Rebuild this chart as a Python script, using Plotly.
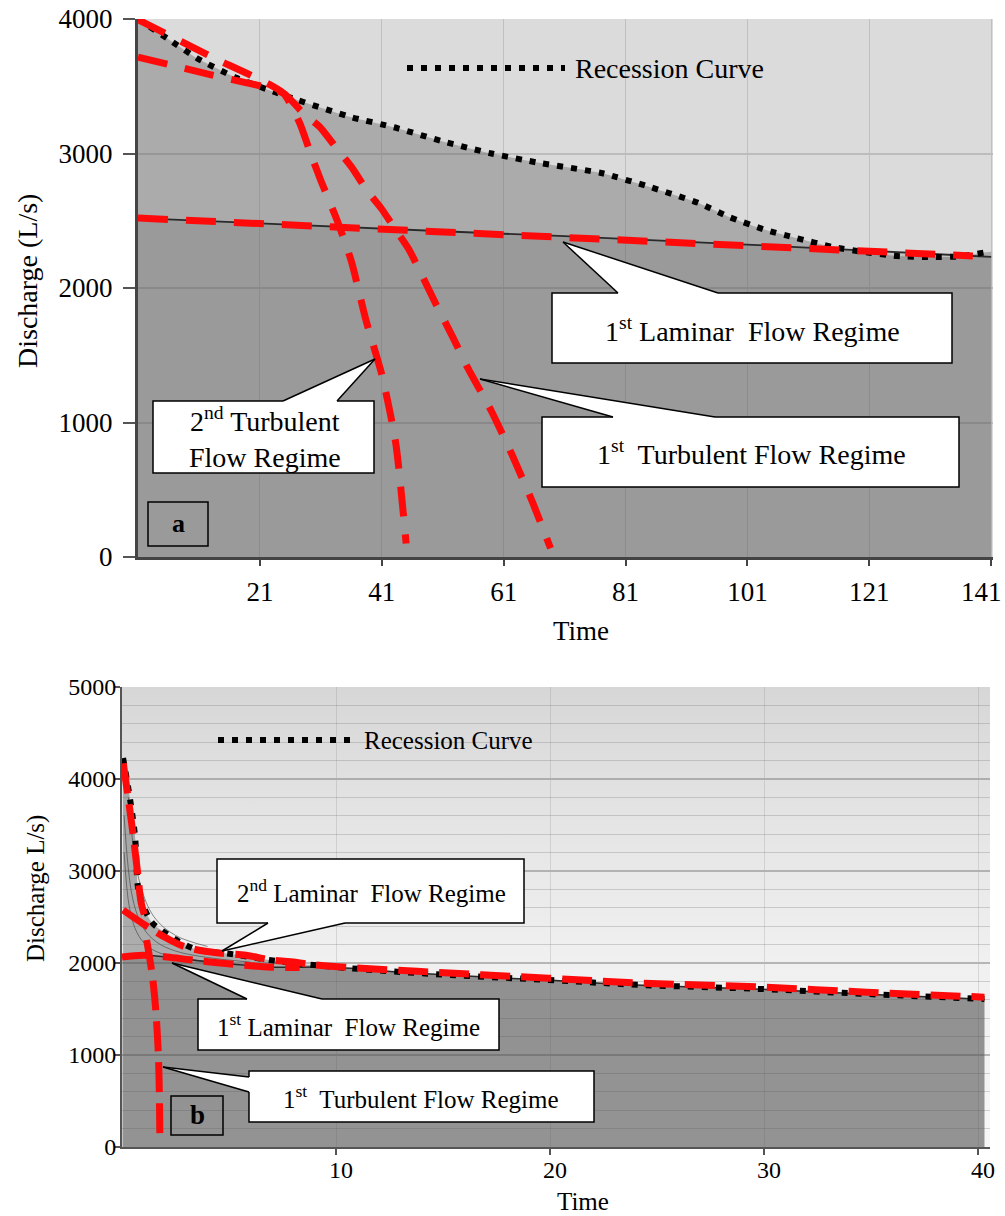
import plotly.graph_objects as go

W, H = 1005, 1216
FONT = "Liberation Serif"
RED = "#ff0a0a"
NB = "\u00a0"

# ---------------- Panel a data ----------------
a_xticks = [21, 41, 61, 81, 101, 121, 141]
a_xticklabels = ["21", "41", "61", "81", "101", "121", "141"]
a_yticks = [0, 1000, 2000, 3000, 4000]
a_rec_t = [1, 6, 11, 17, 22, 27, 36, 43, 51, 59, 67, 77, 85, 93, 98, 104, 109, 115, 120, 125.5, 131,
           136, 140, 141]
a_rec_q = [4000, 3850, 3700, 3565, 3480, 3400, 3270, 3195, 3090, 3000, 2929, 2855, 2751, 2632, 2528,
           2431, 2372, 2305, 2268, 2238, 2230, 2235, 2265, 2270]
a_lam_t = [1, 19, 52, 71, 100, 138, 141]
a_lam_q = [2520, 2483, 2420, 2385, 2325, 2238, 2232]
a_turb2_t = [1, 13, 24.8, 27.5, 29.4, 31, 33.7, 36, 38.4, 41.1, 43.3, 45.0]
a_turb2_q = [3995, 3720, 3450, 3230, 2990, 2800, 2500, 2200, 1762, 1340, 845, 100]
a_turb1_t = [1, 13, 24.8, 28.1, 30.8, 33.8, 36, 38.7, 40.9, 43.3, 45.5, 47.7, 50, 52.9, 55, 58.9,
             62.4, 65.7, 68.7]
a_turb1_q = [3717, 3585, 3450, 3300, 3199, 3026, 2902, 2716, 2593, 2431, 2283, 2084, 1870, 1613,
             1415, 1093, 758, 411, 65]

# ---------------- Panel b data ----------------
b_xticks = [10, 20, 30, 40]
b_yticks = [0, 1000, 2000, 3000, 4000, 5000]
b_rec_t = [0.05, 0.37, 0.61, 0.76, 0.95, 1.38, 1.85, 3.32, 5.1, 7.45, 9.8, 13.8, 19.95, 24.3, 29.9,
           34.8, 40.3]
b_rec_q = [4228, 3790, 3373, 2800, 2650, 2445, 2355, 2160, 2097, 2014, 1960, 1891, 1815, 1761, 1717,
           1663, 1609]
b_base_t = [0, 1.0, 2.1, 3.2, 4.6, 7.0, 9.8, 13.8, 19.95, 24.3, 29.9, 34.8, 40.3]
b_base_q = [2065, 2085, 2065, 2035, 2000, 1955, 1955, 1888, 1812, 1758, 1714, 1660, 1606]
b_lam1_t = [0, 1.0, 2.1, 3.2, 4.6, 7.0, 8.3]
b_lam1_q = [2065, 2085, 2065, 2035, 2000, 1955, 1950]
b_lam2_t = [0.05, 1.07, 1.85, 2.9, 4.3, 5.8, 6.9, 7.9, 9.2, 13.8, 19.95, 24.3, 29.9, 34.8, 40.3]
b_lam2_q = [2576, 2413, 2300, 2180, 2115, 2085, 2035, 2014, 1975, 1910, 1835, 1782, 1738, 1683, 1629]
b_turb2_t = [0.06, 0.45, 0.72, 0.9, 1.12]
b_turb2_q = [4170, 3520, 3000, 2650, 2470]
b_turb1_t = [1.15, 1.46, 1.69, 1.77]
b_turb1_q = [2250, 1780, 1054, 40]
b_h1_t = [0.1, 0.5, 1.0, 1.6, 2.5, 4.0, 6.0]
b_h1_q = [3600, 2700, 2380, 2230, 2130, 2060, 2010]
b_h2_t = [0.1, 0.35, 0.7, 1.2, 2.0, 3.5, 5.0]
b_h2_q = [3200, 2600, 2330, 2180, 2090, 2030, 2000]
b_h3_t = [0.3, 0.8, 1.5, 2.5, 4.0]
b_h3_q = [3800, 2900, 2500, 2300, 2180]

A_XR = [1, 141.3]
A_YR = [0, 4000]
B_XR = [0, 40.56]
B_YR = [0, 5000]


def px(x):
    return x / W


def py(y):
    return 1 - y / H


AX = dict(xaxis="x", yaxis="y")
BX = dict(xaxis="x2", yaxis="y2")

fig = go.Figure()

# ---------- panel a ----------
fig.add_trace(go.Scatter(x=a_rec_t, y=a_rec_q, mode="lines", fill="tozeroy",
                         fillcolor="rgba(80,80,80,0.345)",
                         line=dict(width=0, shape="spline", smoothing=0.5),
                         hoverinfo="skip", **AX))
fig.add_trace(go.Scatter(x=a_lam_t, y=a_lam_q, mode="lines", fill="tozeroy",
                         fillcolor="rgba(80,80,80,0.18)", line=dict(width=1.8, color="#2a2a2a"),
                         hoverinfo="skip", **AX))
fig.add_trace(go.Scatter(x=a_rec_t[:-1], y=a_rec_q[:-1], mode="lines",
                         line=dict(color="black", width=6, dash="6px,8px", shape="spline",
                                   smoothing=0.5), **AX))
for t, q in [(a_turb2_t, a_turb2_q), (a_turb1_t, a_turb1_q)]:
    fig.add_trace(go.Scatter(x=t, y=q, mode="lines",
                             line=dict(color=RED, width=7, dash="30px,18px", shape="spline",
                                       smoothing=0.6), **AX))
fig.add_trace(go.Scatter(x=a_lam_t[:-1], y=a_lam_q[:-1], mode="lines",
                         line=dict(color=RED, width=7, dash="30px,18px"), **AX))

# ---------- panel b ----------
fig.add_trace(go.Scatter(x=[B_XR[0], B_XR[1], B_XR[1], B_XR[0], B_XR[0]],
                         y=[B_YR[0], B_YR[0], B_YR[1], B_YR[1], B_YR[0]],
                         mode="lines", fill="toself", line=dict(width=0),
                         fillgradient=dict(type="vertical",
                                           colorscale=[[0, "rgba(120,120,120,0.06)"],
                                                       [0.4, "rgba(120,120,120,0.11)"],
                                                       [0.72, "rgba(120,120,120,0.2)"],
                                                       [1, "rgba(120,120,120,0.3)"]]),
                         hoverinfo="skip", **BX))
fig.add_trace(go.Scatter(x=b_rec_t, y=b_rec_q, mode="lines", fill="tozeroy",
                         fillcolor="rgba(80,80,80,0.42)", line=dict(width=0, shape="spline"),
                         hoverinfo="skip", **BX))
fig.add_trace(go.Scatter(x=b_base_t, y=b_base_q, mode="lines", fill="tozeroy",
                         fillcolor="rgba(80,80,80,0.3)", line=dict(width=1.5, color="#2a2a2a", shape="spline"),
                         hoverinfo="skip", **BX))
for t, q in [(b_h1_t, b_h1_q), (b_h2_t, b_h2_q), (b_h3_t, b_h3_q)]:
    fig.add_trace(go.Scatter(x=t, y=q, mode="lines",
                             line=dict(color="rgba(50,50,50,0.55)", width=1, shape="spline"),
                             hoverinfo="skip", **BX))
fig.add_trace(go.Scatter(x=b_rec_t, y=b_rec_q, mode="lines",
                         line=dict(color="black", width=6, dash="6px,8px", shape="spline"), **BX))
for t, q in [(b_turb2_t, b_turb2_q), (b_lam2_t, b_lam2_q), (b_lam1_t, b_lam1_q),
             (b_turb1_t, b_turb1_q)]:
    fig.add_trace(go.Scatter(x=t, y=q, mode="lines",
                             line=dict(color=RED, width=7, dash="30px,11px", shape="spline"), **BX))

# ---------- shapes & annotations ----------
shapes = []
annotations = []

# panel a background
shapes.append(dict(type="rect", xref="paper", yref="paper", x0=px(138), x1=px(993), y0=py(557),
                   y1=py(19), fillcolor="#dbdbdb", line=dict(width=0), layer="below"))


def callout(box, tip, b1, b2, inset, text, size, tx, ty):
    x0, y0, x1, y1 = box
    shapes.append(dict(type="rect", xref="paper", yref="paper", x0=px(x0), x1=px(x1),
                       y0=py(y1), y1=py(y0), fillcolor="white",
                       line=dict(color="black", width=1.5), layer="above"))
    ix, iy = inset
    path = (f"M {px(tip[0])},{py(tip[1])} L {px(b1[0])},{py(b1[1])} "
            f"L {px(b1[0] + ix)},{py(b1[1] + iy)} L {px(b2[0] + ix)},{py(b2[1] + iy)} "
            f"L {px(b2[0])},{py(b2[1])} Z")
    shapes.append(dict(type="path", xref="paper", yref="paper", path=path, fillcolor="white",
                       line=dict(width=0), layer="above"))
    for b in (b1, b2):
        shapes.append(dict(type="line", xref="paper", yref="paper", x0=px(tip[0]), y0=py(tip[1]),
                           x1=px(b[0]), y1=py(b[1]), line=dict(color="black", width=1.5),
                           layer="above"))
    annotations.append(dict(xref="paper", yref="paper", x=px(tx), y=py(ty), text=text,
                            showarrow=False, xanchor="center", yanchor="middle",
                            font=dict(family=FONT, size=size, color="black")))


callout((552, 293, 952, 363), (563, 242), (618, 293), (718, 293), (0, 3),
        f"1<sup>st</sup> Laminar{NB}{NB}Flow Regime", 28, 752, 330)
callout((542, 417, 959, 487), (480, 379), (613, 417), (715, 417), (0, 3),
        "1<sup>st</sup>  Turbulent Flow Regime", 28, 751, 452)
callout((153, 401, 374, 473), (375, 359), (283, 401), (337, 401), (0, 3),
        "2<sup>nd</sup> Turbulent<br>Flow Regime", 28, 265, 437)
callout((217, 859, 524, 923), (222, 951), (268, 923), (345, 923), (0, -3),
        f"2<sup>nd</sup> Laminar{NB}{NB}Flow Regime", 25, 371, 891)
callout((198, 999, 499, 1050), (172, 963), (247, 999), (322, 999), (0, 3),
        f"1<sup>st</sup> Laminar{NB}{NB}Flow Regime", 25, 348, 1025)
callout((249, 1071, 594, 1122), (163, 1067), (249, 1077), (249, 1092), (3, 0),
        "1<sup>st</sup>  Turbulent Flow Regime", 25, 421, 1097)

# panel labels a / b
for (x0, y0, x1, y1), lab, size in [((148, 502, 208, 546), "a", 26), ((171, 1096, 223, 1135), "b", 27)]:
    shapes.append(dict(type="rect", xref="paper", yref="paper", x0=px(x0), x1=px(x1), y0=py(y1),
                       y1=py(y0), fillcolor="rgba(0,0,0,0)", line=dict(color="black", width=1.5),
                       layer="above"))
    annotations.append(dict(xref="paper", yref="paper", x=px((x0 + x1) / 2), y=py((y0 + y1) / 2 - 1),
                            text=f"<b>{lab}</b>", showarrow=False, xanchor="center", yanchor="middle",
                            font=dict(family=FONT, size=size, color="black")))

# legends
for (lx0, lx1, ly, tx, size) in [(407, 565, 68, 573, 28), (218, 355, 740, 362, 25)]:
    shapes.append(dict(type="line", xref="paper", yref="paper", x0=px(lx0), x1=px(lx1), y0=py(ly),
                       y1=py(ly), line=dict(color="black", width=6, dash="6px,8px"), layer="above"))
    annotations.append(dict(xref="paper", yref="paper", x=px(tx), y=py(ly), text="Recession Curve",
                            showarrow=False, xanchor="left", yanchor="middle",
                            font=dict(family=FONT, size=size, color="black")))

# last tick label of panel a, pulled inside the page like in the original
annotations.append(dict(xref="x", yref="paper", x=a_xticks[-1], xshift=-10, y=py(592),
                        text=a_xticklabels[-1], showarrow=False, xanchor="center", yanchor="middle",
                        font=dict(family=FONT, size=27, color="black")))

# axis titles
annotations += [
    dict(xref="paper", yref="paper", x=px(27), y=py(281), text="Discharge (L/s)", textangle=-90,
         showarrow=False, xanchor="center", yanchor="middle", font=dict(family=FONT, size=28, color="black")),
    dict(xref="paper", yref="paper", x=px(581), y=py(631), text="Time", showarrow=False,
         xanchor="center", yanchor="middle", font=dict(family=FONT, size=27, color="black")),
    dict(xref="paper", yref="paper", x=px(36), y=py(889), text="Discharge L/s)", textangle=-90,
         showarrow=False, xanchor="center", yanchor="middle", font=dict(family=FONT, size=25, color="black")),
    dict(xref="paper", yref="paper", x=px(583), y=py(1201), text="Time", showarrow=False,
         xanchor="center", yanchor="middle", font=dict(family=FONT, size=25, color="black")),
]

tickfont_a = dict(family=FONT, size=27, color="black")
tickfont_b = dict(family=FONT, size=24, color="black")

fig.update_layout(
    width=W, height=H, margin=dict(l=0, r=0, t=0, b=0, autoexpand=False),
    paper_bgcolor="white", plot_bgcolor="rgba(0,0,0,0)", showlegend=False,
    shapes=shapes, annotations=annotations,
    xaxis=dict(domain=[px(138), px(993)], range=A_XR, tickvals=a_xticks,
               ticktext=a_xticklabels[:-1] + [""],
               ticks="outside", ticklen=6,
               tickwidth=2, tickcolor="#444", showline=True, linecolor="#444", linewidth=3,
               showgrid=True, gridcolor="rgba(110,110,110,0.25)", gridwidth=1, zeroline=False,
               tickfont=tickfont_a, ticklabelstandoff=3,
               anchor="y", automargin=False),
    yaxis=dict(domain=[py(557), py(19)], range=A_YR, tickvals=a_yticks, ticks="outside", ticklen=12,
               tickwidth=2, tickcolor="#555", showline=True, linecolor="#444", linewidth=3,
               showgrid=True, gridcolor="#bcbcbc", gridwidth=2, zeroline=False,
               tickfont=tickfont_a, ticklabelstandoff=5, anchor="x", automargin=False),
    xaxis2=dict(domain=[px(122), px(990)], range=B_XR, tickvals=b_xticks, ticks="outside", ticklen=6,
                tickwidth=1.5, tickcolor="#555", showline=True, linecolor="#555", linewidth=2,
                showgrid=True, gridcolor="rgba(110,110,110,0.2)", gridwidth=1, zeroline=False,
                tickfont=tickfont_b, ticklabelstandoff=-6, ticklabelshift=5,
                ticklabeloverflow="allow", anchor="y2", automargin=False),
    yaxis2=dict(domain=[py(1147), py(687)], range=B_YR, tickvals=b_yticks, ticks="outside", ticklen=5,
                tickwidth=1.5, tickcolor="#555", showline=True, linecolor="#555", linewidth=2,
                showgrid=True, gridcolor="#bdbdbd", gridwidth=1.5, zeroline=False,
                minor=dict(dtick=200, showgrid=True, gridcolor="#d6d6d6", gridwidth=1),
                tickfont=tickfont_b, ticklabelstandoff=-6, anchor="x2", automargin=False),
)

fig.write_html("out.html", config={"displayModeBar": False},
               post_script="document.body.style.margin='0px';")
